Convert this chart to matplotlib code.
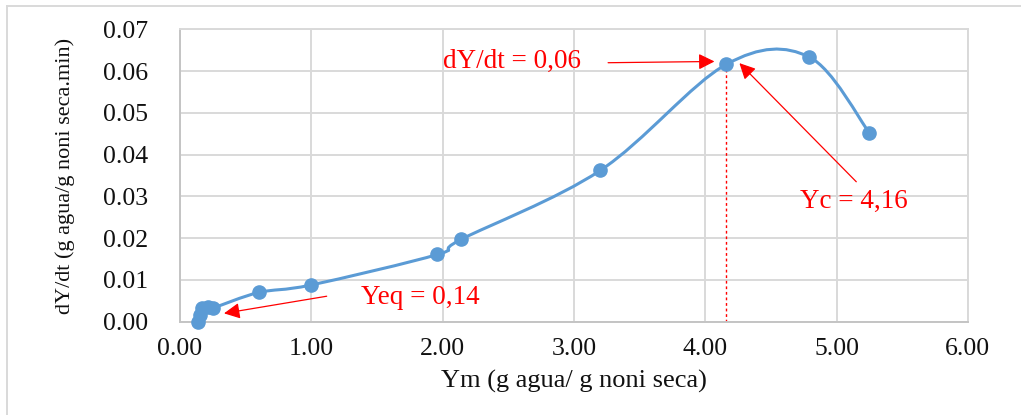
import numpy as np
import matplotlib
matplotlib.use("Agg")
import matplotlib.pyplot as plt
from matplotlib.path import Path
from matplotlib.patches import PathPatch
from matplotlib.lines import Line2D
from matplotlib.ticker import FormatStrFormatter, MultipleLocator

# ------------------------------------------------------------
# Drying rate curve: moisture content vs. drying rate
# ------------------------------------------------------------
ym = [0.14, 0.15, 0.17, 0.21, 0.25, 0.60, 1.00, 1.96, 2.14, 3.20, 4.16, 4.79, 5.25]
dydt = [0.0000, 0.0017, 0.0034, 0.0035, 0.0033, 0.0070, 0.0088,
        0.0161, 0.0197, 0.0362, 0.0616, 0.0634, 0.0452]

YC = 4.16        # critical moisture
DYDT_C = 0.06    # constant drying rate
YEQ = 0.14       # equilibrium moisture

XLABEL = "Ym (g agua/ g noni seca)"
YLABEL = "dY/dt (g agua/g noni seca.min)"

BLUE = "#5B9BD5"
GRID = "#D9D9D9"
RED = "#FF0000"

plt.rcParams["font.family"] = ["Liberation Serif", "DejaVu Serif"]


def smooth_path(x, y):
    """Bezier path through the points (spreadsheet-style smoothed line)."""
    p = np.column_stack([x, y])
    n = len(p)
    verts = [p[0]]
    codes = [Path.MOVETO]
    for i in range(n - 1):
        p0 = p[i - 1] if i > 0 else p[i]
        p3 = p[i + 2] if i + 2 < n else p[i + 1]
        c1 = p[i] + (p[i + 1] - p0) / 6.0
        c2 = p[i + 1] - (p3 - p[i]) / 6.0
        verts += [c1, c2, p[i + 1]]
        codes += [Path.CURVE4] * 3
    return Path(verts, codes)


fig = plt.figure(figsize=(10.21, 4.15), dpi=100)
ax = fig.add_axes([0.1763, 0.2248, 0.948 - 0.1763, 0.9294 - 0.2248])

ax.set_xlim(0, 6)
ax.set_ylim(0, 0.07)
ax.xaxis.set_major_locator(MultipleLocator(1))
ax.yaxis.set_major_locator(MultipleLocator(0.01))
ax.xaxis.set_major_formatter(FormatStrFormatter("%.2f"))
ax.yaxis.set_major_formatter(FormatStrFormatter("%.2f"))
ax.grid(True, color=GRID, lw=1.4, zorder=0)
ax.set_axisbelow(True)
for side in ("top", "right"):
    ax.spines[side].set_color(GRID)
    ax.spines[side].set_linewidth(1.4)
for side in ("left", "bottom"):
    ax.spines[side].set_color("#C4C4C4")
    ax.spines[side].set_linewidth(1.4)
ax.tick_params(axis="y", length=0, pad=23, labelsize=18.5, labelcolor="#111111")
ax.tick_params(axis="x", length=0, pad=12, labelsize=18.5, labelcolor="#111111")

ax.set_xlabel(XLABEL, fontsize=19, color="#111111")
ax.xaxis.set_label_coords(0.5, -0.203)
ax.xaxis.label.set_va("center")
ax.set_ylabel(YLABEL, fontsize=16, color="#111111")
ax.yaxis.set_label_coords(-0.146, 0.5)
ax.yaxis.label.set_va("center")

# smoothed curve + markers
ax.add_patch(PathPatch(smooth_path(ym, dydt), fc="none", ec=BLUE, lw=2.2,
                       zorder=3, clip_on=False))
ax.plot(ym, dydt, ls="none", marker="o", ms=9.5, color=BLUE, zorder=4,
        clip_on=False)

# critical point guide
ax.plot([YC, YC], [0, dydt[ym.index(YC)]], color=RED, lw=1, ls=(0, (2, 2)),
        zorder=2)

arrow = dict(arrowstyle="-|>", color=RED, lw=0.9, mutation_scale=24,
             shrinkA=0, shrinkB=0)
ax.annotate("", xy=(4.07, 0.0623), xytext=(3.26, 0.0620), arrowprops=arrow,
            zorder=5)
ax.text(2.53, 0.0622, f"dY/dt = {DYDT_C:.2f}".replace(".", ","), color=RED,
        fontsize=19.5, ha="center", va="center")

ax.annotate("", xy=(4.26, 0.0619), xytext=(5.15, 0.0335), arrowprops=arrow,
            zorder=5)
ax.text(5.13, 0.0287, f"Yc = {YC:.2f}".replace(".", ","), color=RED,
        fontsize=19.5, ha="center", va="center")

ax.annotate("", xy=(0.335, 0.0020), xytext=(1.117, 0.0061), arrowprops=arrow,
            zorder=5)
ax.text(1.83, 0.0057, f"Yeq = {YEQ:.2f}".replace(".", ","), color=RED,
        fontsize=19.5, ha="center", va="center")

# chart frame (top and left edges)
W, H = 1021, 415
fig.add_artist(Line2D([7 / W, 1], [1 - 6 / H, 1 - 6 / H], color=GRID, lw=1.4))
fig.add_artist(Line2D([7 / W, 7 / W], [0, 1 - 6 / H], color=GRID, lw=1.4))

fig.savefig("out.png", dpi=100)
